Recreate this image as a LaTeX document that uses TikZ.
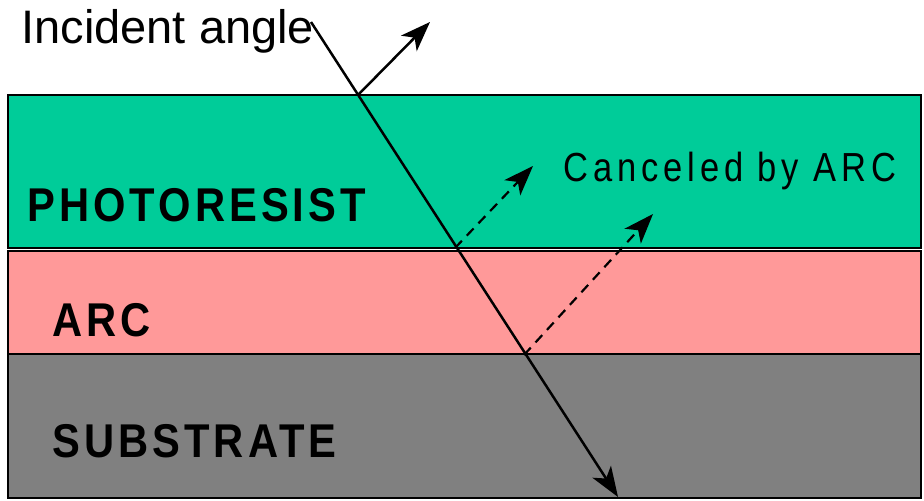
\documentclass[tikz,border=0pt]{standalone}
\usepackage{fontspec}
\setmainfont{Liberation Sans}
\newfontfamily\layerfont[FakeStretch=0.88,LetterSpace=8.5]{Liberation Sans}
\newfontfamily\notefont[FakeStretch=0.85,LetterSpace=12]{Liberation Sans}
\usepackage{tikz}
\usetikzlibrary{arrows.meta}

\definecolor{resistcol}{RGB}{0,204,153}
\definecolor{arccol}{RGB}{255,153,153}
\definecolor{subcol}{RGB}{128,128,128}

\begin{document}
\begin{tikzpicture}[
  x=0.5pt, y=-0.5pt,
  >={Stealth[length=15pt,width=11pt,inset=4pt]},
  layer/.style={draw=black, line width=1.2pt},
  layerlabel/.style={anchor=base west, inner sep=0pt,
    font=\layerfont\bfseries\fontsize{23.7}{28}\selectfont},
  ray/.style={->, line width=1.25pt},
  cancelray/.style={->, line width=1.1pt, dash pattern=on 5pt off 3.5pt}
]
\useasboundingbox (0,0) rectangle (924,501);

% ==================== Lớp vật liệu ====================
\draw[layer, fill=resistcol] (8,95) rectangle (921,248);
\draw[layer, fill=arccol] (8,251) rectangle (921,354);
\draw[layer, fill=subcol] (8,354) rectangle (921,498);

\node (resist) [layerlabel] at (27,222) {PHOTORESIST};
\node (arc) [layerlabel] at (52,337) {ARC};
\node (substrate) [layerlabel] at (52,457) {SUBSTRATE};

% ==================== Chú thích ====================
\node (incident) [anchor=base west, inner sep=0pt,
  font=\fontsize{23.5}{28}\selectfont] at (21,44) {Incident angle};
\node (canceled) [anchor=base west, inner sep=0pt,
  font=\notefont\fontsize{20.3}{24}\selectfont] at (563,182) {Canceled by ARC};

% ==================== Tia sáng ====================
\coordinate (src) at (311,22);
\coordinate (hittop) at (358,95);
\coordinate (hitarc) at (455,248);
\coordinate (hitsub) at (524,355);
\coordinate (exit) at (618,497);
\coordinate (refltip) at (430,22);
\coordinate (canctipa) at (533,166);
\coordinate (canctipb) at (653,214);

\draw[ray] (src) -- (exit);
\draw[ray] (hittop) -- (refltip);
\draw[cancelray] (hitarc) -- (canctipa);
\draw[cancelray] (hitsub) -- (canctipb);

\end{tikzpicture}
\end{document}
